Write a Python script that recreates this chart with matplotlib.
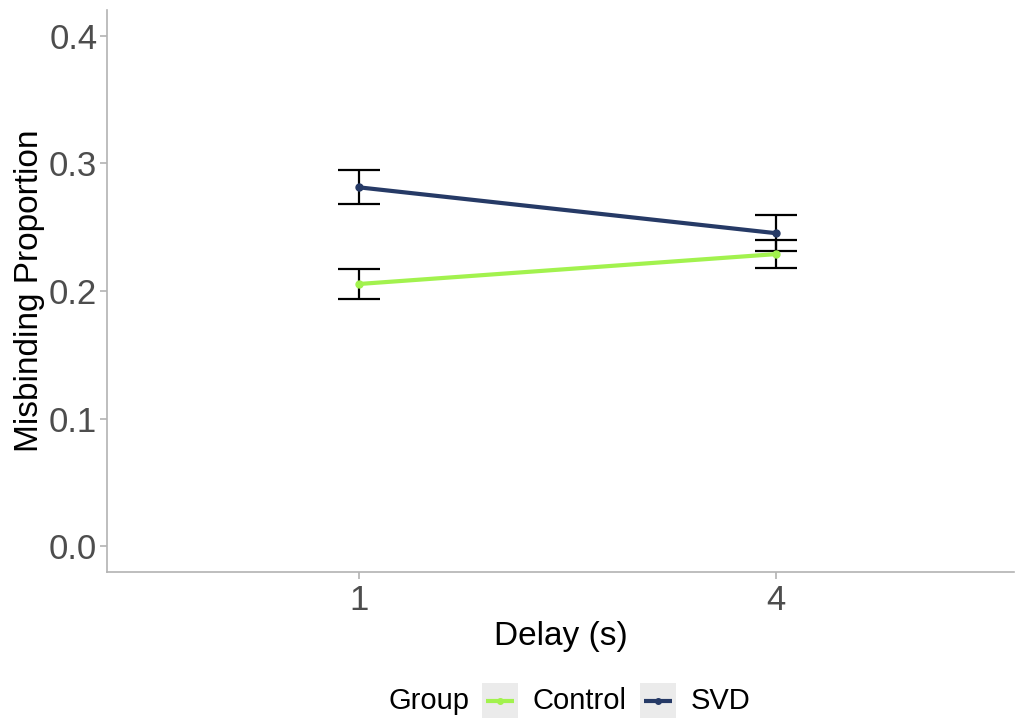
import matplotlib
matplotlib.use("Agg")
import matplotlib.pyplot as plt
from matplotlib.lines import Line2D
from matplotlib.patches import Rectangle

plt.rcParams['font.family'] = ['Liberation Sans', 'DejaVu Sans']

delays = ["1", "4"]
groups = ["Control", "SVD"]
colors = {"Control": "#A2F24E", "SVD": "#263A66"}
means = {"Control": [0.2055, 0.2289], "SVD": [0.2812, 0.2453]}
errors = {"Control": [0.0120, 0.0109], "SVD": [0.0133, 0.0141]}

W, H = 1019, 720
fig = plt.figure(figsize=(W / 100, H / 100), dpi=100)
ax = fig.add_axes([0.105, 0.2056, 0.89, 0.7804])

xpos = list(range(1, len(delays) + 1))
for g in groups:
    ax.errorbar(xpos, means[g], yerr=errors[g], fmt="none", ecolor="black",
                elinewidth=1.6, capsize=15, capthick=1.6, zorder=2)
for g in groups:
    ax.plot(xpos, means[g], color=colors[g], linewidth=3, marker="o",
            markersize=5, zorder=3)

ax.set_xlim(0.396, 2.571)
ax.set_ylim(-0.02, 0.42)
ax.set_xticks(xpos)
ax.set_xticklabels(delays)
ax.set_yticks([0.0, 0.1, 0.2, 0.3, 0.4])
ax.set_yticklabels(["0.0", "0.1", "0.2", "0.3", "0.4"])
ax.tick_params(axis="both", colors="#B3B3B3", labelcolor="#4D4D4D",
               labelsize=25, length=5, width=1.2)
ax.tick_params(axis="y", pad=2)
for s in ["top", "right"]:
    ax.spines[s].set_visible(False)
for s in ["left", "bottom"]:
    ax.spines[s].set_color("#B3B3B3")
    ax.spines[s].set_linewidth(1.2)

ax.set_xlabel("Delay (s)", fontsize=24, labelpad=3)
ax.set_ylabel("Misbinding Proportion", fontsize=24, labelpad=3)

# legend drawn by hand (ggplot style: title on the left, grey key boxes)
def fx(px):
    return px / W

def fy(py):
    return 1 - py / H

leg_y = 701
fig.text(fx(388), fy(leg_y), "Group", fontsize=21, va="center", ha="left")
key_x = [482, 640]
for g, kx in zip(groups, key_x):
    fig.add_artist(Rectangle((fx(kx), fy(718)), fx(36), 35 / H,
                             transform=fig.transFigure, facecolor="#EBEBEB",
                             edgecolor="none"))
    fig.add_artist(Line2D([fx(kx + 4), fx(kx + 18), fx(kx + 32)],
                          [fy(leg_y)] * 3,
                          transform=fig.transFigure, color=colors[g],
                          linewidth=3, marker="o", markersize=4,
                          markevery=[1], solid_capstyle="butt"))
    fig.text(fx(kx + 51), fy(leg_y), g, fontsize=21, va="center", ha="left")

fig.savefig("out.png", dpi=100)
